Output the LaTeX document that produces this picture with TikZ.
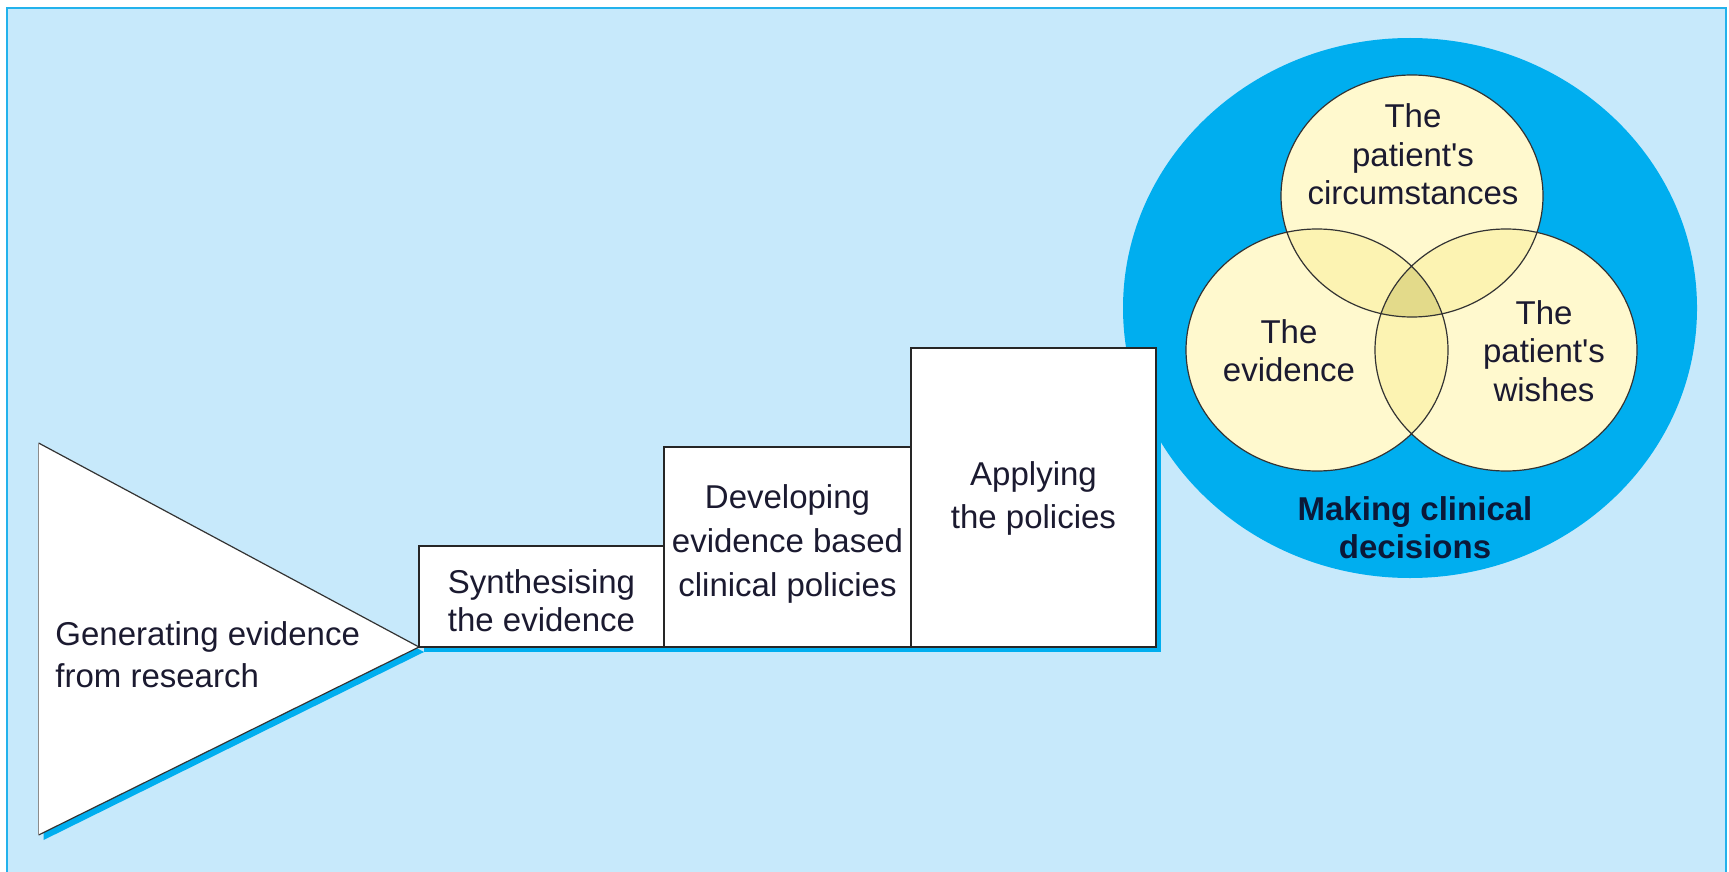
\documentclass[tikz,border=0pt]{standalone}
\usepackage{fontspec}
\setmainfont{Liberation Sans}[Ligatures=TeXOff]
\usetikzlibrary{shadows}
\definecolor{bgblue}{HTML}{C7E9FB}
\definecolor{cyanb}{HTML}{00AEEF}
\definecolor{bordc}{HTML}{22B2EC}
\definecolor{vennfill}{HTML}{FFF9CE}
\definecolor{venntwo}{HTML}{FCF3B2}
\definecolor{vennthree}{HTML}{E3DA8A}
\definecolor{txt}{HTML}{1B1A30}
\definecolor{navy}{HTML}{0B1838}
\newcommand\mltext[2][c]{\begin{tabular}[t]{@{}#1@{}}#2\end{tabular}}
\begin{document}
\begin{tikzpicture}[x=0.5pt,y=-0.5pt,
  lbl/.style={inner sep=0pt, anchor=base, text=txt, font=\fontsize{16.5}{#1}\selectfont},
  lbl/.default=20,
  cshadow/.style={drop shadow={shadow xshift=2.5pt, shadow yshift=-2.5pt, fill=cyanb, opacity=1}},
  stepbox/.style={draw=black!85, line width=0.9pt, fill=white, inner sep=0pt, cshadow},
  vrad/.style={x radius=65.5pt, y radius=60.5pt},
  vennc/.style={draw=black!80, line width=0.6pt}]
\useasboundingbox (0,0) rectangle (1729,872);
\fill[white] (0,0) rectangle (1729,872);
\fill[bgblue] (7,8) rectangle (1726,880);
\draw[bordc, line width=1pt] (7,880) -- (7,8) -- (1726,8) -- (1726,880);
% big circle
\coordinate (bigc) at (1410,308);
\fill[cyanb] (bigc) ellipse [x radius=143.5pt, y radius=135pt];
% venn
\coordinate (vt) at (1412,196);
\coordinate (vl) at (1317,350);
\coordinate (vr) at (1506,350);
\fill[vennfill] (vt) ellipse[vrad] (vl) ellipse[vrad] (vr) ellipse[vrad];
\begin{scope}
  \clip (vt) ellipse[vrad];
  \fill[venntwo] (vl) ellipse[vrad] (vr) ellipse[vrad];
\end{scope}
\begin{scope}
  \clip (vl) ellipse[vrad];
  \fill[venntwo] (vr) ellipse[vrad];
\end{scope}
\begin{scope}
  \clip (vl) ellipse[vrad];
  \clip (vr) ellipse[vrad];
  \fill[vennthree] (vt) ellipse[vrad];
\end{scope}
\draw[vennc] (vt) ellipse[vrad] (vl) ellipse[vrad] (vr) ellipse[vrad];
% triangle
\coordinate (ta) at (38.6,443);
\coordinate (tb) at (38.6,835);
\coordinate (tc) at (419,647);
\fill[white, cshadow] (ta) -- (tc) -- (tb) -- cycle;
\draw[black!80, line width=0.6pt] (ta) -- (tc) -- (tb);
\draw[black!45, line width=0.6pt] (ta) -- (tb);
% boxes
\node[stepbox, minimum width=122.5pt, minimum height=50.5pt] (synth) at (541.5,596.5) {};
\node[stepbox, minimum width=123.5pt, minimum height=100pt] (dev) at (787.5,547) {};
\node[stepbox, minimum width=122.5pt, minimum height=149.5pt] (apply) at (1033.5,497.5) {};
% labels
\node[lbl=21, anchor=base west] (gentxt) at (55,645) {\mltext[l]{Generating evidence\\from research}};
\node[lbl=19] (synthtxt) at (541.5,593) {\mltext{Synthesising\\the evidence}};
\node[lbl=22] (devtxt) at (787.5,508) {\mltext{Developing\\evidence based\\clinical policies}};
\node[lbl=21.5] (applytxt) at (1033.5,485) {\mltext{Applying\\the policies}};
\node[lbl=19.5] (circtxt) at (1413,127) {\mltext{The\\patient's\\circumstances}};
\node[lbl=19] (evtxt) at (1289,343) {\mltext{The\\evidence}};
\node[lbl=19.3] (wishtxt) at (1544,324) {\mltext{The\\patient's\\wishes}};
\node[lbl=19, text=navy] (maketxt) at (1415,520) {\bfseries\mltext{Making clinical\\decisions}};
\end{tikzpicture}
\end{document}
